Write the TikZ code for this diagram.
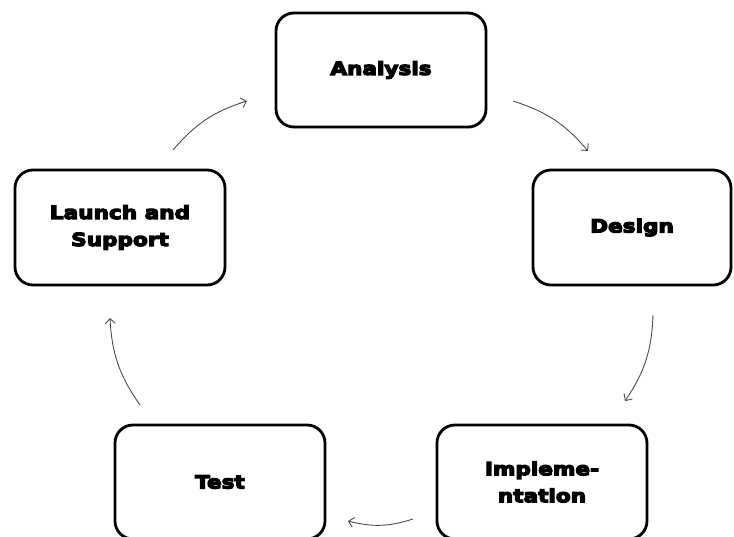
\documentclass[tikz,border=0pt]{standalone}
\usepackage{fontspec}
\newfontfamily\boxfont{DejaVu Sans}[BoldFeatures={FakeBold=7,FakeStretch=1.2}]
\usetikzlibrary{arrows.meta,shadows}
\begin{document}
\begin{tikzpicture}[x=1pt,y=-1pt,
  stagebox/.style={draw=black, line width=2.8pt, rounded corners=18pt, fill=white,
    minimum width=210pt, minimum height=114pt, align=center,
    font=\boxfont\bfseries\fontsize{18pt}{27pt}\selectfont,
    drop shadow={opacity=0.25, shadow xshift=1pt, shadow yshift=-1.5pt}},
  flow/.style={draw=black!70, line width=0.9pt, bend left=16,
    -{Straight Barb[length=5pt,width=10pt]}}]
\useasboundingbox (0,0) rectangle (734,537);

% the five stages of the cycle
\node[stagebox] (analysis) at (381,70) {Analysis};
\node[stagebox, minimum width=198pt, minimum height=115pt] (design) at (632,227.5) {Design};
\node[stagebox, minimum height=115pt] (launch) at (120,227.5) {Launch and\\Support};
\node[stagebox] (test) at (220,482) {Test};
\node[stagebox] (impl) at (542,482) {Impleme-\\ntation};

% free ends of the connecting arcs
\coordinate (la) at (173,150);
\coordinate (al) at (247,101);
\coordinate (ad) at (513,101);
\coordinate (da) at (588,151);
\coordinate (di) at (653,315);
\coordinate (id) at (625,401);
\coordinate (it) at (413,519);
\coordinate (ti) at (348,521);
\coordinate (tl) at (140,405);
\coordinate (lt) at (110,318);

\draw[flow] (la) to (al);
\draw[flow] (ad) to (da);
\draw[flow] (di) to (id);
\draw[flow] (it) to (ti);
\draw[flow] (tl) to (lt);
\end{tikzpicture}
\end{document}
